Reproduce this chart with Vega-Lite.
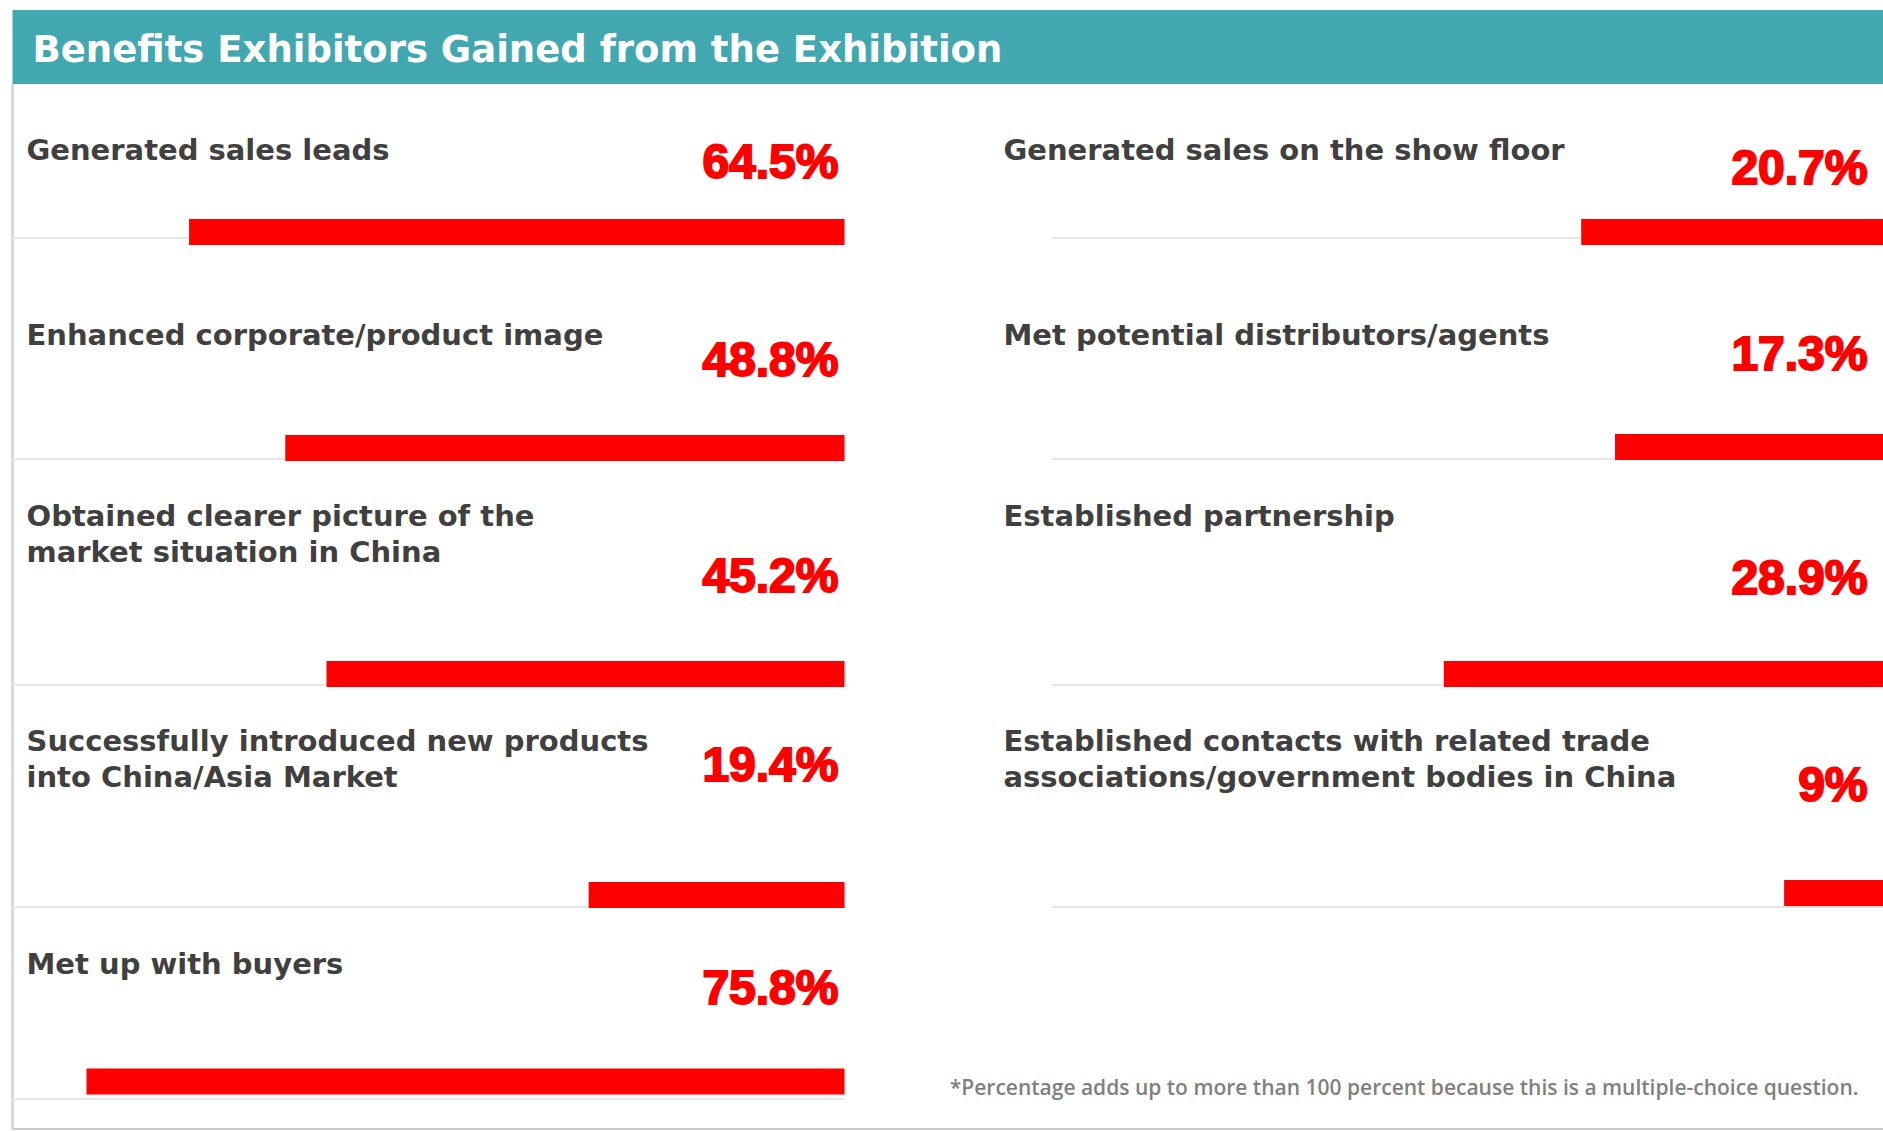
{
  "$schema": "https://vega.github.io/schema/vega-lite/v6.json",
  "padding": {"left": 10.5, "top": 10, "right": 0, "bottom": 0},
  "background": "white",
  "config": {"view": {"stroke": null}},
  "datasets": {
    "items": [
      {"side": "L", "row": 1, "label": "Generated sales leads", "share": 0.645, "bar": 62.0},
      {"side": "L", "row": 2, "label": "Enhanced corporate/product image", "share": 0.488, "bar": 52.9},
      {"side": "L", "row": 3, "label": "Obtained clearer picture of the\nmarket situation in China", "share": 0.452, "bar": 49.0},
      {"side": "L", "row": 4, "label": "Successfully introduced new products\ninto China/Asia Market", "share": 0.194, "bar": 24.2},
      {"side": "L", "row": 5, "label": "Met up with buyers", "share": 0.758, "bar": 71.7},
      {"side": "R", "row": 1, "label": "Generated sales on the show floor", "share": 0.207, "bar": 28.6},
      {"side": "R", "row": 2, "label": "Met potential distributors/agents", "share": 0.173, "bar": 25.4},
      {"side": "R", "row": 3, "label": "Established partnership", "share": 0.289, "bar": 41.6},
      {"side": "R", "row": 4, "label": "Established contacts with related trade\nassociations/government bodies in China", "share": 0.09, "bar": 9.4}
    ]
  },
  "spacing": 0,
  "bounds": "flush",
  "vconcat": [
    {
      "width": 1871,
      "height": 74,
      "view": {"fill": "#42a8af", "stroke": null},
      "data": {"values": [{"title": "Benefits Exhibitors Gained from the Exhibition"}]},
      "mark": {"type": "text", "align": "left", "baseline": "middle", "font": "DejaVu Sans", "fontWeight": "bold", "fontSize": 37, "color": "white", "dx": 20, "dy": 4},
      "encoding": {
        "x": {"datum": 0, "type": "quantitative", "scale": {"domain": [0, 1]}, "axis": null},
        "y": {"datum": 0.5, "type": "quantitative", "scale": {"domain": [0, 1]}, "axis": null},
        "text": {"field": "title"}
      }
    },
    {
      "spacing": 159,
      "bounds": "flush",
      "resolve": {"scale": {"x": "independent", "y": "independent"}},
      "hconcat": [
        {
          "width": 832,
          "height": 1045,
          "data": {"name": "items"},
          "transform": [{"filter": "datum.side == 'L'"}],
          "resolve": {"scale": {"y": "independent"}},
          "encoding": {
            "x": {"type": "quantitative", "scale": {"domain": [0, 78.7], "reverse": true, "nice": false, "zero": false}, "axis": null}
          },
          "layer": [
            {
              "mark": {"type": "rule", "color": "#d9d9d9", "strokeWidth": 3},
              "encoding": {
                "x": {"datum": 78.7},
                "y": {"datum": 0, "type": "quantitative", "scale": {"domain": [0, 1]}, "axis": null},
                "y2": {"datum": 1}
              }
            },
            {
              "mark": {"type": "rule", "color": "#cccccc", "strokeWidth": 2},
              "encoding": {
                "x": {"datum": 78.7},
                "x2": {"datum": -98.3},
                "y": {"datum": 0, "type": "quantitative", "scale": {"domain": [0, 1]}, "axis": null}
              }
            },
            {
              "mark": {"type": "rule", "color": "#e6e6e6", "strokeWidth": 2},
              "encoding": {
                "x": {"datum": 78.7},
                "x2": {"datum": 0},
                "y": {"field": "row", "type": "quantitative", "scale": {"domain": [1, 2, 3, 4, 5], "range": [154, 375, 601, 823, 1015], "nice": false, "zero": false}, "axis": null}
              }
            },
            {
              "mark": {"type": "bar", "color": "#ff0000", "size": 26},
              "encoding": {
                "x": {"field": "bar"},
                "x2": {"datum": 0},
                "y": {"field": "row", "type": "quantitative", "scale": {"domain": [1, 2, 3, 4, 5], "range": [143, 364, 590, 811, 1002], "nice": false, "zero": false}, "axis": null}
              }
            },
            {
              "mark": {"type": "text", "align": "left", "baseline": "alphabetic", "dx": 14, "font": "DejaVu Sans", "fontWeight": "bold", "fontSize": 29, "color": "#404040", "lineBreak": "\n", "lineHeight": 36},
              "encoding": {
                "x": {"datum": 78.7},
                "y": {"field": "row", "type": "quantitative", "scale": {"domain": [1, 2, 3, 4, 5], "range": [76, 261, 442, 667, 890], "nice": false, "zero": false}, "axis": null},
                "text": {"field": "label"}
              }
            },
            {
              "mark": {"type": "text", "align": "right", "baseline": "alphabetic", "dx": -6, "font": "Liberation Sans", "fontWeight": "bold", "fontSize": 48, "color": "#ff0000", "stroke": "#ff0000", "strokeWidth": 2},
              "encoding": {
                "x": {"datum": 0},
                "y": {"field": "row", "type": "quantitative", "scale": {"domain": [1, 2, 3, 4, 5], "range": [94, 292, 508, 697, 920], "nice": false, "zero": false}, "axis": null},
                "text": {"field": "share", "type": "quantitative", "format": ".1~%"}
              }
            }
          ]
        },
        {
          "width": 880,
          "height": 1045,
          "resolve": {"scale": {"y": "independent"}},
          "encoding": {
            "x": {"type": "quantitative", "scale": {"domain": [0, 83.25], "reverse": true, "nice": false, "zero": false}, "axis": null}
          },
          "layer": [
            {
              "data": {"name": "items"},
              "transform": [{"filter": "datum.side == 'R'"}],
              "mark": {"type": "rule", "color": "#e6e6e6", "strokeWidth": 2},
              "encoding": {
                "x": {"datum": 78.7},
                "x2": {"datum": 0},
                "y": {"field": "row", "type": "quantitative", "scale": {"domain": [1, 2, 3, 4], "range": [154, 375, 601, 823], "nice": false, "zero": false}, "axis": null}
              }
            },
            {
              "data": {"name": "items"},
              "transform": [{"filter": "datum.side == 'R'"}],
              "mark": {"type": "bar", "color": "#ff0000", "size": 26},
              "encoding": {
                "x": {"field": "bar"},
                "x2": {"datum": 0},
                "y": {"field": "row", "type": "quantitative", "scale": {"domain": [1, 2, 3, 4], "range": [143, 363, 590, 814], "nice": false, "zero": false}, "axis": null}
              }
            },
            {
              "data": {"name": "items"},
              "transform": [{"filter": "datum.side == 'R'"}],
              "mark": {"type": "text", "align": "left", "baseline": "alphabetic", "dx": 0, "font": "DejaVu Sans", "fontWeight": "bold", "fontSize": 29, "color": "#404040", "lineBreak": "\n", "lineHeight": 36},
              "encoding": {
                "x": {"datum": 83.25},
                "y": {"field": "row", "type": "quantitative", "scale": {"domain": [1, 2, 3, 4], "range": [76, 261, 442, 667], "nice": false, "zero": false}, "axis": null},
                "text": {"field": "label"}
              }
            },
            {
              "data": {"name": "items"},
              "transform": [{"filter": "datum.side == 'R'"}],
              "mark": {"type": "text", "align": "right", "baseline": "alphabetic", "dx": -16, "font": "Liberation Sans", "fontWeight": "bold", "fontSize": 48, "color": "#ff0000", "stroke": "#ff0000", "strokeWidth": 2},
              "encoding": {
                "x": {"datum": 0},
                "y": {"field": "row", "type": "quantitative", "scale": {"domain": [1, 2, 3, 4], "range": [100, 286, 510, 717], "nice": false, "zero": false}, "axis": null},
                "text": {"field": "share", "type": "quantitative", "format": ".1~%"}
              }
            },
            {
              "data": {"values": [{"row": 5, "note": "*Percentage adds up to more than 100 percent because this is a multiple-choice question."}]},
              "mark": {"type": "text", "align": "right", "baseline": "alphabetic", "dx": -25, "font": "Open Sans", "fontWeight": 600, "fontSize": 21, "color": "#808080"},
              "encoding": {
                "x": {"datum": 0},
                "y": {"field": "row", "type": "quantitative", "scale": {"domain": [1, 5], "range": [0, 1011], "nice": false, "zero": false}, "axis": null},
                "text": {"field": "note"}
              }
            }
          ]
        }
      ]
    }
  ]
}
